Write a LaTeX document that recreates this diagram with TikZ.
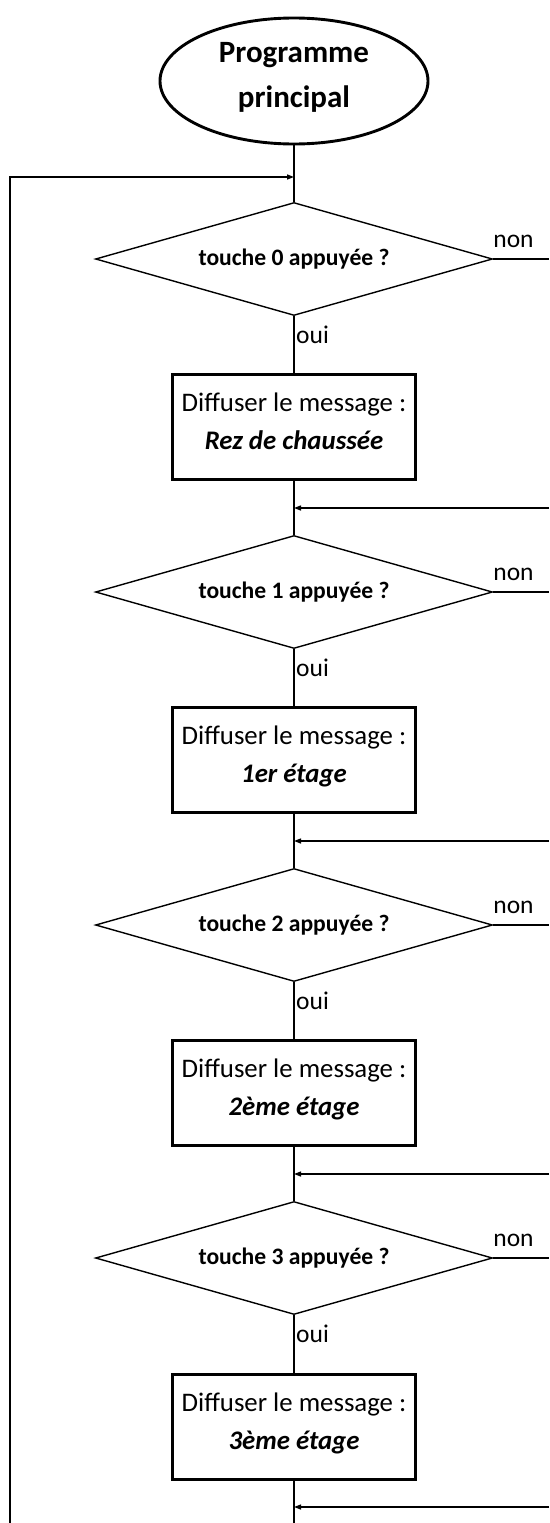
\documentclass[tikz,border=0pt]{standalone}
\usepackage{fontspec}
\setmainfont{Carlito}
\usetikzlibrary{shapes.geometric,arrows.meta}
\begin{document}
\begin{tikzpicture}[x=1pt,y=-1pt,
  flow/.style={line width=1.3pt},
  arr/.style={flow,-{Triangle[length=7pt,width=5pt]}},
  decision/.style={diamond,draw,line width=1.4pt,shape aspect=3.513,minimum width=397pt,minimum height=113pt,inner sep=0pt,font=\bfseries\fontsize{23.6}{28}\selectfont},
  action/.style={rectangle,draw,line width=2.6pt,minimum width=243pt,minimum height=105pt,align=center,text height=50pt,text depth=6pt,font=\fontsize{26.8}{38}\selectfont},
  lbl/.style={font=\fontsize{25.5}{30}\selectfont,inner sep=0pt},
  startnode/.style={ellipse,draw,line width=2.9pt,minimum width=268pt,minimum height=126pt,inner sep=0pt,align=center,text depth=12pt,font=\bfseries\fontsize{31}{45}\selectfont}
]
\useasboundingbox (0,0) rectangle (549,1523);

\node[startnode] (st) at (294,81) {Programme\\principal};
\coordinate (loop) at (294,177);
\coordinate (lb) at (10,1523);
\coordinate (bot) at (294,1523);

% stage 0
\node[decision] (d0) at (294,259) {touche 0 appuyée ?};
\node[action] (b0) at (294,427) {Diffuser le message :\\\textbf{\textit{Rez de chaussée}}};
\coordinate (m0) at (294,508);
\coordinate (r0) at (549,259);
\coordinate (e0) at (549,508);
% stage 1
\node[decision] (d1) at (294,592) {touche 1 appuyée ?};
\node[action] (b1) at (294,760) {Diffuser le message :\\\textbf{\textit{1er étage}}};
\coordinate (m1) at (294,841);
\coordinate (r1) at (549,592);
\coordinate (e1) at (549,841);
% stage 2
\node[decision] (d2) at (294,925) {touche 2 appuyée ?};
\node[action] (b2) at (294,1093) {Diffuser le message :\\\textbf{\textit{2ème étage}}};
\coordinate (m2) at (294,1174);
\coordinate (r2) at (549,925);
\coordinate (e2) at (549,1174);
% stage 3
\node[decision] (d3) at (294,1258) {touche 3 appuyée ?};
\node[action] (b3) at (294,1427) {Diffuser le message :\\\textbf{\textit{3ème étage}}};
\coordinate (m3) at (294,1507);
\coordinate (r3) at (549,1258);
\coordinate (e3) at (549,1507);

% labels
\foreach \i in {0,1,2,3}{
  \node[lbl,anchor=base west] (non\i) at ([shift={(0,-12)}]d\i.east) {non};
  \node[lbl,anchor=base west] (oui\i) at ([shift={(2,84)}]d\i.center) {oui};
}

% connectors
\draw[flow] (st) -- (d0);
\draw[arr] (lb) |- (loop);
\foreach \i in {0,1,2,3}{
  \draw[flow] (d\i) -- (b\i);
  \draw[flow] (d\i.east) -- (r\i);
  \draw[arr] (e\i) -- (m\i);
}
\draw[flow] (b0) -- (d1);
\draw[flow] (b1) -- (d2);
\draw[flow] (b2) -- (d3);
\draw[flow] (b3) -- (bot);
\end{tikzpicture}
\end{document}
